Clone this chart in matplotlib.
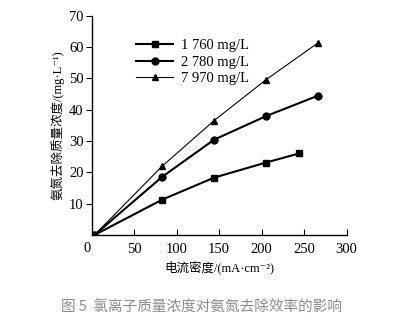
import matplotlib
matplotlib.use('Agg')
import matplotlib.pyplot as plt

plt.rcParams['font.family'] = ['Liberation Serif', 'Noto Sans CJK SC', 'DejaVu Sans']

# current density (mA/cm2) vs ammonia removal (mg/L)
x_1760 = [3, 83, 144, 205, 244]
y_1760 = [0, 11.3, 18.3, 23.1, 26.0]
x_2780 = [3, 83, 144, 205, 266]
y_2780 = [0, 18.6, 30.4, 37.9, 44.4]
x_7970 = [3, 83, 144, 205, 266]
y_7970 = [0, 22.0, 36.5, 49.5, 61.2]
labels = ['1 760 mg/L', '2 780 mg/L', '7 970 mg/L']
xticks = [50, 100, 150, 200, 250, 300]
yticks = [10, 20, 30, 40, 50, 60, 70]

fig = plt.figure(figsize=(3.96, 3.31), dpi=100)
ax = fig.add_axes([0.232, 0.29, 0.643, 0.663])

ax.plot(x_1760, y_1760, 'k-', marker='s', ms=4.5, lw=1.5, label=labels[0])
ax.plot(x_2780, y_2780, 'k-', marker='o', ms=5, lw=1.5, label=labels[1])
ax.plot(x_7970, y_7970, 'k-', marker='^', ms=5, lw=0.8, label=labels[2])

ax.set_xlim(0, 300)
ax.set_ylim(0, 70)
ax.set_xticks(xticks)
ax.set_yticks(yticks)
ax.spines['top'].set_visible(False)
ax.spines['right'].set_visible(False)
ax.spines['left'].set_linewidth(1.0)
ax.spines['bottom'].set_linewidth(1.0)
ax.tick_params(axis='x', direction='in', length=4, labelsize=10.5, pad=6)
ax.tick_params(axis='y', direction='out', length=4, labelsize=10.5, pad=2)
ax.text(-6, -2.2, '0', fontsize=10.5, ha='center', va='top')

ax.set_xlabel('电流密度/(mA·cm⁻²)', fontsize=9, labelpad=3)
ax.set_ylabel('氨氮去除质量浓度/(mg·L⁻¹)', fontsize=9, labelpad=3)

ax.legend(loc='upper left', bbox_to_anchor=(0.12, 0.955), frameon=False,
          fontsize=10.5, handlelength=2.6, handletextpad=0.5, labelspacing=0.25)

fig.text(0.51, 0.07, '图 5  氯离子质量浓度对氨氮去除效率的影响', ha='center', va='center',
         fontsize=10.5, color='#8c8c8c', family=['Noto Sans CJK SC', 'DejaVu Sans'])

fig.savefig('out.png', dpi=100)
